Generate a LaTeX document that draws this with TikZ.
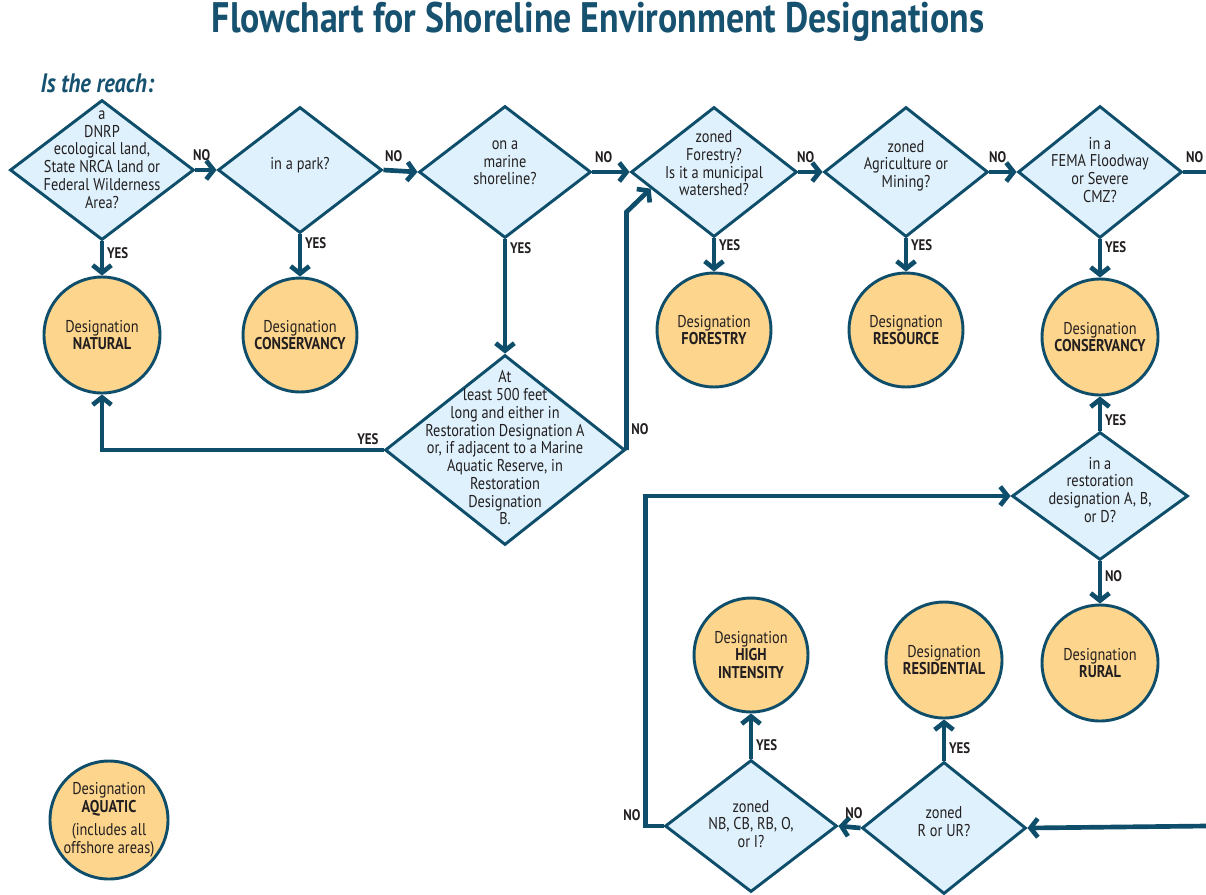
\documentclass[tikz,border=0pt]{standalone}
\usepackage{fontspec}
\setmainfont{PT Sans}[FakeStretch=0.84]
\usetikzlibrary{shapes.geometric,arrows.meta,calc}
\definecolor{flowblue}{RGB}{14,78,106}
\definecolor{titleblue}{RGB}{22,82,112}
\definecolor{askfill}{RGB}{222,241,252}
\definecolor{endfill}{RGB}{253,213,140}
\definecolor{inktext}{RGB}{35,31,32}
\newcommand{\qsize}{\fontsize{12.8}{13.3}\selectfont}
\newcommand{\qtext}[2][0pt]{\makebox[0pt]{\smash{\raisebox{\dimexpr#1-0.25em\relax}{\begin{tabular}{@{}c@{}}#2\end{tabular}}}}}
\begin{document}
\begin{tikzpicture}[x=0.75pt, y=-0.75pt,
	ask/.style n args={2}{diamond, draw=flowblue, fill=askfill, line width=2.2pt, inner sep=0pt, minimum width=#1*0.75pt, minimum height=#2*0.75pt, font=\qsize, text=inktext},
	goal/.style={circle, draw=flowblue, fill=endfill, line width=2.2pt, inner sep=0pt, minimum size=#1*1.5pt, align=center, font=\qsize, text=inktext},
	flow/.style={draw=flowblue, line width=3.5pt, -{Straight Barb[length=5.5pt,width=14pt]}},
	lbl/.style={font=\bfseries\fontsize{11.5}{13}\selectfont, text=inktext, inner sep=2pt}]
	\useasboundingbox (0,0) rectangle (1206,894);
	\node[font=\bfseries\fontsize{32}{38}\selectfont, text=titleblue] (title) at (598,22) {Flowchart for Shoreline Environment Designations};
	\node[anchor=west, font=\bfseries\itshape\fontsize{20}{24}\selectfont, text=titleblue] (reach) at (36,83) {Is the reach:};
	\node[ask={184}{140}] (d1) at (102,170) {\qtext[7.5pt]{a\\DNRP\\ecological land,\\State NRCA land or\\Federal Wilderness\\Area?}};
	\node[ask={164}{126}] (d2) at (300,170) {\qtext[3.5pt]{in a park?}};
	\node[ask={172}{132}] (d3) at (505,172) {\qtext[6.5pt]{on a\\marine\\shoreline?}};
	\node[ask={166}{130}] (d4) at (714,172) {\qtext[5pt]{zoned\\Forestry?\\Is it a municipal\\watershed?}};
	\node[ask={164}{130}] (d5) at (906,172) {\qtext[4.5pt]{zoned\\Agriculture or\\Mining?}};
	\node[ask={164}{132}] (d6) at (1100,172) {\qtext{in a\\FEMA Floodway\\or Severe\\CMZ?}};
	\node[ask={240}{190}] (d7) at (505,450) {\qtext{At\\least 500 feet\\long and either in\\Restoration Designation A\\or, if adjacent to a Marine\\Aquatic Reserve, in\\Restoration\\Designation\\B.}};
	\node[ask={176}{128}] (d8) at (1100,496) {\qtext[3pt]{in a\\restoration\\designation A, B,\\or D?}};
	\node[ask={164}{132}] (d9) at (944,828) {\qtext[3.5pt]{zoned\\R or UR?}};
	\node[ask={172}{132}] (d10) at (751,826) {\qtext{zoned\\NB, CB, RB, O,\\or I?}};
	\node[goal=58] (n1) at (102,335) {Designation\\\textbf{NATURAL}};
	\node[goal=57] (n2) at (300,335) {Designation\\\textbf{CONSERVANCY}};
	\node[goal=57] (n3) at (714,330) {Designation\\\textbf{FORESTRY}};
	\node[goal=57] (n4) at (906,330) {Designation\\\textbf{RESOURCE}};
	\node[goal=58] (n5) at (1100,337) {Designation\\\textbf{CONSERVANCY}};
	\node[goal=58] (n6) at (1100,663) {Designation\\\textbf{RURAL}};
	\node[goal=57] (n7) at (751,655) {Designation\\\textbf{HIGH}\\\textbf{INTENSITY}};
	\node[goal=58] (n8) at (944,660) {Designation\\\textbf{RESIDENTIAL}};
	\node[goal=59] (n9) at (109,820) {Designation\\\textbf{AQUATIC}\\[4pt](includes all\\offshore areas)};
	\coordinate (outR) at (1206,172);
	\coordinate (inR) at (1206,826);
	\coordinate (d4in) at ($(d4.west)!0.25!(d4.south)$);
	\draw[flow] (d1.east) -- node[lbl, above, pos=0.3, yshift=3] (no1) {NO} (d2.west);
	\draw[flow] (d2.east) -- node[lbl, above, pos=0.3, yshift=3] (no2) {NO} (d3.west);
	\draw[flow] (d3.east) -- node[lbl, above, pos=0.3, yshift=3] (no3) {NO} (d4.west);
	\draw[flow] (d4.east) -- node[lbl, above, pos=0.3, yshift=3] (no4) {NO} (d5.west);
	\draw[flow] (d5.east) -- node[lbl, above, pos=0.3, yshift=3] (no5) {NO} (d6.west);
	\draw[flow, -] (d6.east) -- node[lbl, above, pos=0.5, yshift=3] (no6) {NO} (outR);
	\draw[flow] (d1.south) -- node[lbl, right, pos=0.35] (yes1) {YES} (n1.north);
	\draw[flow] (d2.south) -- node[lbl, right, pos=0.2] (yes2) {YES} (n2.north);
	\draw[flow] (d4.south) -- node[lbl, right, pos=0.2] (yes4) {YES} (n3.north);
	\draw[flow] (d5.south) -- node[lbl, right, pos=0.2] (yes5) {YES} (n4.north);
	\draw[flow] (d6.south) -- node[lbl, right, pos=0.2] (yes6) {YES} (n5.north);
	\draw[flow] (d3.south) -- node[lbl, right, pos=0.08] (yes3) {YES} (d7.north);
	\draw[flow] (d7.west) node[lbl, above left] (yes7) {YES} -| (n1.south);
	\draw[flow] (d7.east) node[lbl, above right, yshift=8] (no7) {NO} -- ++(0,-238) -- (d4in);
	\draw[flow] (d8.north) -- node[lbl, right, pos=0.3] (yes8) {YES} (n5.south);
	\draw[flow] (d8.south) -- node[lbl, right, pos=0.35] (no8) {NO} (n6.north);
	\draw[flow] (inR) -- (d9.east);
	\draw[flow] (d9.west) -- node[lbl, above, pos=0.3, yshift=3] (no9) {NO} (d10.east);
	\draw[flow] (d9.north) -- node[lbl, right, pos=0.3] (yes9) {YES} (n8.south);
	\draw[flow] (d10.north) -- node[lbl, right, pos=0.3] (yes10) {YES} (n7.south);
	\draw[flow] (d10.west) -- ++(-18,0) node[lbl, above left] (no10) {NO} |- (d8.west);
\end{tikzpicture}
\end{document}
